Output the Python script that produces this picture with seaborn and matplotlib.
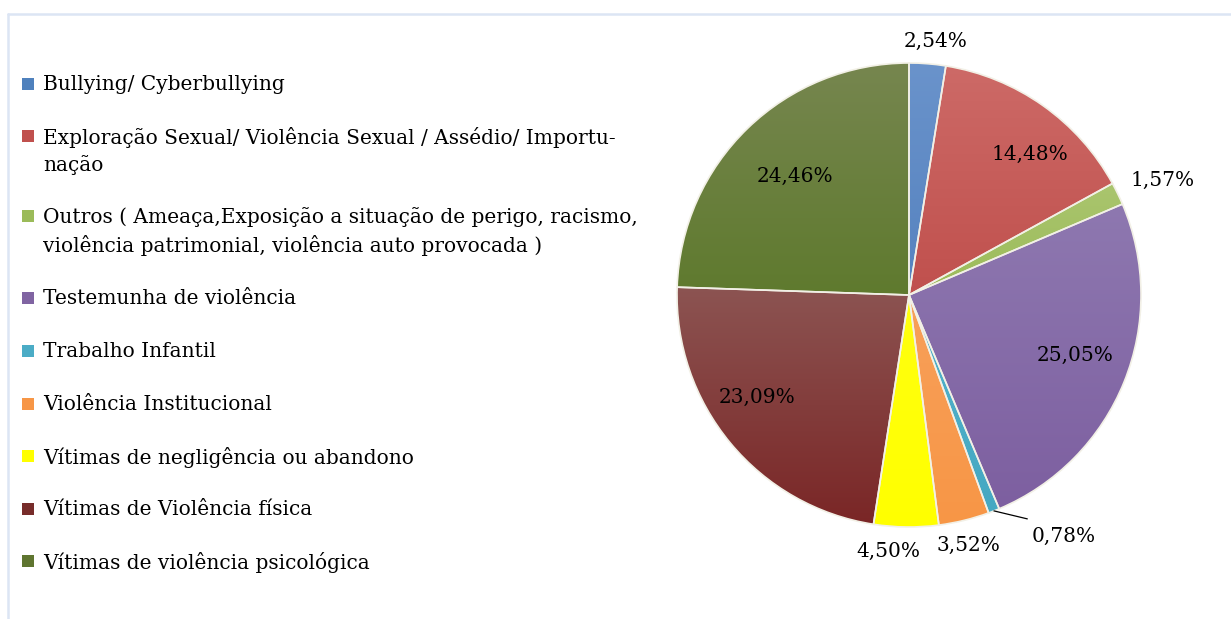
import numpy as np
import matplotlib
matplotlib.use("Agg")
import matplotlib.pyplot as plt
from matplotlib.colors import to_rgb, LinearSegmentedColormap
from matplotlib.patches import Rectangle
from matplotlib.lines import Line2D
import seaborn as sns

sns.set_theme(style="white")
plt.rcParams['font.family'] = ['DejaVu Serif', 'Liberation Serif']

categories = [
    "Bullying/ Cyberbullying",
    "Exploração Sexual/ Violência Sexual / Assédio/ Importu-\nnação",
    "Outros ( Ameaça,Exposição a situação de perigo, racismo,\nviolência patrimonial, violência auto provocada )",
    "Testemunha de violência",
    "Trabalho Infantil",
    "Violência Institucional",
    "Vítimas de negligência ou abandono",
    "Vítimas de Violência física",
    "Vítimas de violência psicológica",
]
values = [2.54, 14.48, 1.57, 25.05, 0.78, 3.52, 4.50, 23.09, 24.46]
value_labels = ["2,54%", "14,48%", "1,57%", "25,05%", "0,78%", "3,52%", "4,50%", "23,09%", "24,46%"]

top_colors = ["#6A93CB", "#CD6A67", "#AAC56E", "#8E78B0", "#52B2CB", "#F8A05A", "#FFFF10", "#8C5452", "#76864F"]
bot_colors = ["#5582BF", "#C0504D", "#9BBB59", "#7D5FA0", "#45A8C2", "#F79646", "#FFFF00", "#7A2626", "#5F7A2E"]
legend_colors = ["#4F81BD", "#C0504D", "#9BBB59", "#8064A2", "#4BACC6", "#F79646", "#FFFF00", "#772C2A", "#5F7530"]

W, H = 1231, 619
fig = plt.figure(figsize=(W / 100, H / 100), dpi=100)

FS = 14.5

# frame lines (light blue)
fig.add_artist(Line2D([8 / W, 1.0], [1 - 14 / H, 1 - 14 / H], color="#DCE5F4", lw=1.8))
fig.add_artist(Line2D([8 / W, 8 / W], [0, 1 - 14 / H], color="#DCE5F4", lw=1.8))

# pie axes: center (909, 295) px, radius 232 px
cx, cy, R = 909, 295, 232
ax_a, ax_b = 1.35, 1.30
left = (cx - ax_a * R) / W
bottom = (H - cy - ax_b * R) / H
ax = fig.add_axes([left, bottom, 2 * ax_a * R / W, 2 * ax_b * R / H])

wedges, _ = ax.pie(values, startangle=90, counterclock=False,
                   colors=bot_colors,
                   wedgeprops=dict(edgecolor="#F2F0E6", linewidth=1.2))
ax.set_aspect("auto")
ax.set_xlim(-ax_a, ax_a)
ax.set_ylim(-ax_b, ax_b)
ax.axis("off")

# gradient fills clipped to each wedge
for w, tc, bc in zip(wedges, top_colors, bot_colors):
    verts = w.get_path().vertices
    verts = w.get_patch_transform().transform(verts)
    x0, x1 = verts[:, 0].min(), verts[:, 0].max()
    y0, y1 = verts[:, 1].min(), verts[:, 1].max()
    cmap = LinearSegmentedColormap.from_list("g", [to_rgb(bc), to_rgb(tc)])
    grad = np.linspace(0, 1, 256).reshape(-1, 1)
    im = ax.imshow(grad, extent=[x0, x1, y0, y1], origin="lower", cmap=cmap,
                   aspect="auto", zorder=w.get_zorder() - 0.05)
    im.set_clip_path(w)
    w.set_facecolor("none")
    w.set_zorder(im.get_zorder() + 0.1)
ax.set_xlim(-ax_a, ax_a)
ax.set_ylim(-ax_b, ax_b)

# labels
dist = [1.10, 0.80, 1.20, 0.76, None, 1.11, 1.11, 0.79, 0.71]
ang_off = [-1.5, -5.5, -1.5, 2.0, 0, -0.3, -4.0, -5.5, 0.0]
for i, (w, lab) in enumerate(zip(wedges, value_labels)):
    mid = np.deg2rad((w.theta1 + w.theta2) / 2 + ang_off[i])
    if dist[i] is None:
        a = np.deg2rad((w.theta1 + w.theta2) / 2)
        p0 = (np.cos(a), np.sin(a))
        p1 = (0.51, -0.965)
        ax.plot([p0[0], p1[0]], [p0[1], p1[1]], color="black", lw=0.9, zorder=10)
        ax.text(0.665, -1.04, lab, ha="center", va="center", fontsize=FS, color="black")
        continue
    ax.text(dist[i] * np.cos(mid), dist[i] * np.sin(mid), lab,
            ha="center", va="center", fontsize=FS, color="black", zorder=10)

# legend
legend_y = [84, 136, 216, 298, 351, 404, 456, 509, 561]
for lab, col, y in zip(categories, legend_colors, legend_y):
    fig.add_artist(Rectangle((22 / W, 1 - (y + 6) / H), 12 / W, 12 / H,
                             facecolor=col, edgecolor="none", transform=fig.transFigure))
    fig.text(43 / W, 1 - (y - 9) / H, lab, ha="left", va="top", fontsize=FS,
             color="black", linespacing=1.45)

fig.savefig("out.png", dpi=100, facecolor="white")
